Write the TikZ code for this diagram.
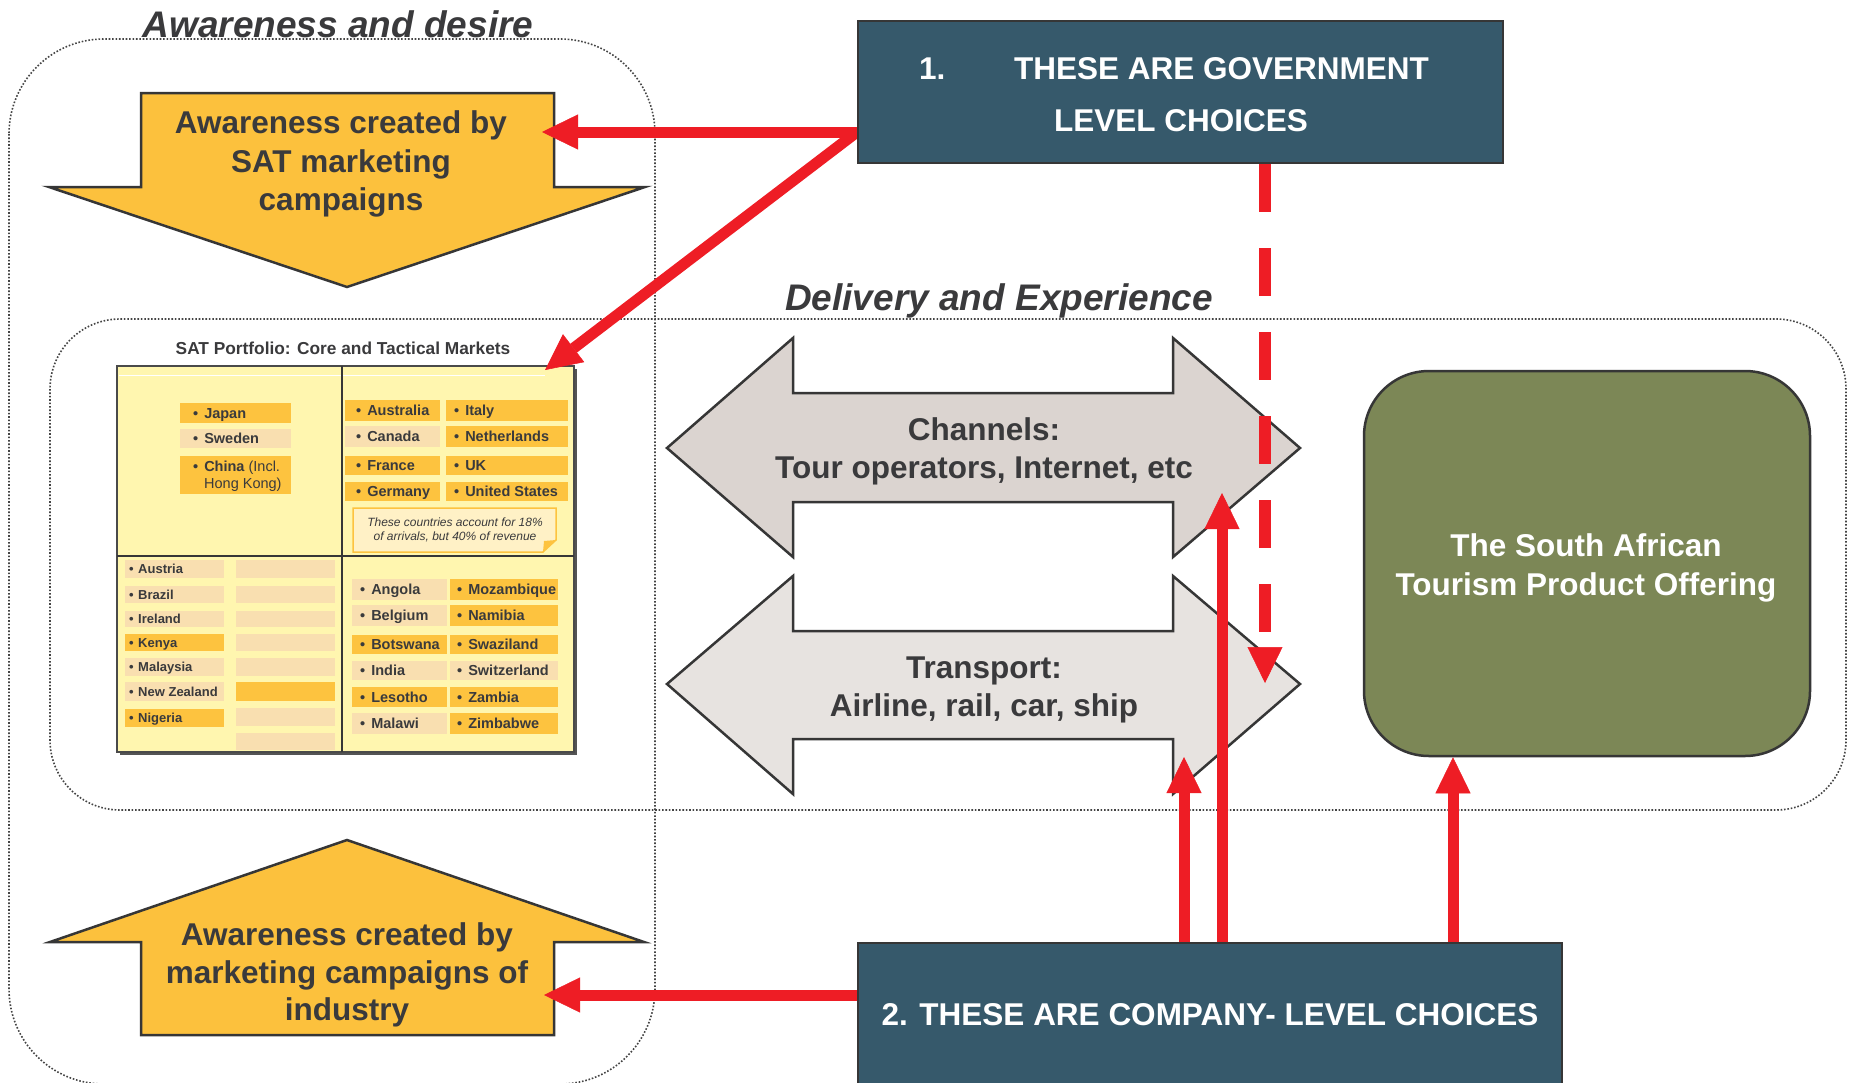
\documentclass[tikz,border=0pt]{standalone}
\usepackage{fontspec}
\setmainfont{Liberation Sans}
\usetikzlibrary{arrows.meta}
\definecolor{txt}{HTML}{3A3A3C}
\definecolor{edge}{HTML}{363636}
\definecolor{gold}{HTML}{FCC13D}
\definecolor{slate}{HTML}{36596B}
\definecolor{olive}{HTML}{7C8756}
\definecolor{redarr}{HTML}{EE1D25}
\definecolor{chan}{HTML}{DBD4D0}
\definecolor{trans}{HTML}{E7E3E0}
\definecolor{tbl}{HTML}{FFF6AF}
\definecolor{cellA}{HTML}{FDC33F}
\definecolor{cellB}{HTML}{F9DFB0}
\definecolor{notefill}{HTML}{FFF1C6}
\definecolor{dots}{HTML}{444444}
\pgfdeclarelayer{front}
\pgfsetlayers{main,front}

\newcommand{\tcell}[8]{%
  \fill[#6] (#2,#3) rectangle (#4,#5);
  \node[celltxt, anchor=base west] (#1) at (#7,{(#3+#5)/2+5.2}) {\textbullet\hspace{6pt}#8};}
\newcommand{\scell}[8]{%
  \fill[#6] (#2,#3) rectangle (#4,#5);
  \node[smalltxt, anchor=base west] (#1) at (#7,{(#3+#5)/2+4.8}) {\textbullet\hspace{4.5pt}#8};}

\begin{document}
\begin{tikzpicture}[x=1pt,y=-1pt,
  big/.style={font=\fontsize{31.5}{38}\selectfont\bfseries, text=txt, inner sep=0pt, anchor=base},
  bigw/.style={big, text=white},
  ttl/.style={font=\fontsize{37}{44}\selectfont\bfseries\itshape, text=txt, inner sep=0pt, anchor=base},
  celltxt/.style={font=\fontsize{14.5}{17}\selectfont\bfseries, text=txt, inner sep=0pt},
  smalltxt/.style={font=\fontsize{13}{15}\selectfont\bfseries, text=txt, inner sep=0pt},
  notetxt/.style={font=\fontsize{12}{14}\selectfont\itshape, text=txt, inner sep=0pt, anchor=base},
  dotbox/.style={draw=dots, line width=1.6pt, dash pattern=on 1.6pt off 1.8pt},
  yarrow/.style={fill=gold, draw=edge, line width=2.5pt, line join=miter},
  garrow/.style={draw=edge, line width=2.5pt, line join=miter},
  redarrow/.style={draw=redarr, line width=11pt, -{Triangle[length=36pt,width=35pt,line width=0.5pt]}},
  reddash/.style={redarrow, line width=12pt, dash pattern=on 48pt off 36pt},
  choicebox/.style={fill=slate, draw=edge, line width=2pt, inner sep=0pt},
]
\fill[white] (0,0) rectangle (1853,1082);
\useasboundingbox (0,0) rectangle (1853,1082);

% dotted grouping boxes
\draw[dotbox, rounded corners=95pt] (9,39) rectangle (655,1084);
\draw[dotbox, rounded corners=70pt] (50,319) rectangle (1846,810);

% titles
\node[ttl] (t-aware) at (338,37) {Awareness and desire};
\node[ttl] (t-deliv) at (999,310) {Delivery and Experience};

% yellow arrows
\draw[yarrow] (141,93) -- (554,93) -- (554,187) -- (645,187) -- (347,287) -- (49,187) -- (141,187) -- cycle;
\node[big] (aw1a) at (341,133) {Awareness created by};
\node[big] (aw1b) at (341,172) {SAT marketing};
\node[big] (aw1c) at (341,210) {campaigns};

\draw[yarrow] (347,840) -- (644,942) -- (554,942) -- (554,1035) -- (141,1035) -- (141,942) -- (50,942) -- cycle;
\node[big] (aw2a) at (347,945) {Awareness created by};
\node[big] (aw2b) at (347,983) {marketing campaigns of};
\node[big] (aw2c) at (347,1020) {industry};

% double arrows
\draw[garrow, fill=chan] (667,448) -- (793,338) -- (793,393) -- (1173,393) -- (1173,338) -- (1300,448) -- (1173,557) -- (1173,502) -- (793,502) -- (793,557) -- cycle;
\node[big] (ch1) at (984,440) {Channels:};
\node[big] (ch2) at (984,478) {Tour operators, Internet, etc};

\draw[garrow, fill=trans] (667,684) -- (793,576) -- (793,631) -- (1173,631) -- (1173,576) -- (1300,684) -- (1173,794) -- (1173,739) -- (793,739) -- (793,794) -- cycle;
\node[big] (tr1) at (984,678) {Transport:};
\node[big] (tr2) at (984,716) {Airline, rail, car, ship};

% product offering
\node[fill=olive, draw=edge, line width=2.5pt, rounded corners=65pt, minimum width=446pt, minimum height=385pt, inner sep=0pt] (offer) at (1587,563.5) {};
\node[bigw] (of1) at (1586,556) {The South African};
\node[bigw] (of2) at (1586,595) {Tourism Product Offering};

% portfolio table
\node[font=\fontsize{17.3}{20}\selectfont\bfseries, text=txt, inner sep=0pt, anchor=base] (ttitle) at (343,354) {SAT Portfolio: Core and Tactical Markets};
\fill[edge!85] (120,369) rectangle (577,755);
\draw[fill=tbl, draw=edge!90, line width=1.5pt] (117,366) rectangle (574,752);
\draw[white, line width=1pt] (119,375) -- (545,375);
\draw[edge, line width=1.5pt] (342,366) -- (342,752);
\draw[edge, line width=1.5pt] (117,556) -- (574,556);

\tcell{japan}{180}{403}{291}{423}{cellA}{193}{Japan}
\tcell{sweden}{180}{429}{291}{448}{cellB}{193}{Sweden}
\fill[cellA] (180,456) rectangle (291,494);
\node[celltxt, anchor=base west] (china) at (193,471) {\textbullet\hspace{6pt}China {\mdseries(Incl.}};
\node[celltxt, anchor=base west, font=\fontsize{14.5}{17}\selectfont\mdseries] (hk) at (204,488) {Hong Kong)};

\tcell{aus}{345}{400}{440}{421}{cellA}{356}{Australia}
\tcell{can}{345}{426}{440}{447}{cellB}{356}{Canada}
\tcell{fra}{345}{456}{440}{475}{cellA}{356}{France}
\tcell{ger}{345}{482}{440}{501}{cellA}{356}{Germany}
\tcell{ita}{446}{400}{568}{421}{cellA}{454}{Italy}
\tcell{net}{446}{426}{568}{447}{cellA}{454}{Netherlands}
\tcell{uk}{446}{456}{568}{475}{cellA}{454}{UK}
\tcell{us}{446}{482}{568}{501}{cellA}{454}{United States}

\draw[fill=notefill, draw=cellA, line width=1.5pt] (353,508) -- (556,508) -- (556,540) -- (543,552) -- (353,552) -- cycle;
\fill[cellA] (543,552) -- (556,540) -- (544,541) -- cycle;
\node[notetxt] (n1) at (455,526) {These countries account for 18\%};
\node[notetxt] (n2) at (455,540) {of arrivals, but 40\% of revenue};

\scell{aut}{125}{560}{224}{578}{cellB}{129}{Austria}
\scell{bra}{125}{586}{224}{603}{cellB}{129}{Brazil}
\scell{ire}{125}{611}{224}{627}{cellB}{129}{Ireland}
\scell{ken}{125}{634}{224}{651}{cellA}{129}{Kenya}
\scell{mal}{125}{658}{224}{676}{cellB}{129}{Malaysia}
\scell{nz}{125}{682}{224}{701}{cellB}{129}{New Zealand}
\scell{nig}{125}{709}{224}{727}{cellA}{129}{Nigeria}
\fill[cellB] (236,560) rectangle (335,578);
\fill[cellB] (236,586) rectangle (335,603);
\fill[cellB] (236,611) rectangle (335,627);
\fill[cellB] (236,634) rectangle (335,651);
\fill[cellB] (236,658) rectangle (335,676);
\fill[cellA] (236,682) rectangle (335,701);
\fill[cellB] (236,708) rectangle (335,726);
\fill[cellB] (236,733) rectangle (335,750);

\tcell{ang}{352}{579}{447}{600}{cellB}{360}{Angola}
\tcell{bel}{352}{605}{447}{626}{cellB}{360}{Belgium}
\tcell{bot}{352}{635}{447}{654}{cellA}{360}{Botswana}
\tcell{ind}{352}{661}{447}{680}{cellB}{360}{India}
\tcell{les}{352}{687}{447}{707}{cellA}{360}{Lesotho}
\tcell{mlw}{352}{713}{447}{734}{cellB}{360}{Malawi}
\tcell{moz}{450}{579}{558}{600}{cellA}{457}{Mozambique}
\tcell{nam}{450}{605}{558}{626}{cellA}{457}{Namibia}
\tcell{swa}{450}{635}{558}{654}{cellA}{457}{Swaziland}
\tcell{swi}{450}{661}{558}{680}{cellB}{457}{Switzerland}
\tcell{zam}{450}{687}{558}{707}{cellA}{457}{Zambia}
\tcell{zim}{450}{713}{558}{734}{cellA}{457}{Zimbabwe}

% choice boxes (on the front layer, drawn over the connectors)
\begin{pgfonlayer}{front}
\node[choicebox, minimum width=645pt, minimum height=142pt] (gov) at (1180.5,92) {};
\node[bigw, anchor=base west] (g1) at (919,79) {1.};
\node[bigw, anchor=base west] (g2) at (1014,79) {THESE ARE GOVERNMENT};
\node[bigw] (g3) at (1181,131) {LEVEL CHOICES};
\node[choicebox, minimum width=704pt, minimum height=150pt] (comp) at (1210,1018) {};
\node[bigw] (c1) at (1210,1025) {2. THESE ARE COMPANY- LEVEL CHOICES};
\end{pgfonlayer}

% connector end points
\coordinate (a1tip) at (542,132);
\coordinate (ttip) at (545,370);
\coordinate (a2tip) at (544,995);
\coordinate (chtip) at (1222,493);
\coordinate (trtip) at (1184,757);
\coordinate (oftip) at (1453,757);
\coordinate (dtip) at (1265,683);

% red connectors
\draw[redarrow] (gov.west |- a1tip) -- (a1tip);
\draw[redarrow] (gov.west |- a1tip) -- (ttip);
\draw[redarrow] (comp.west |- a2tip) -- (a2tip);
\draw[redarrow] (trtip |- comp.north) -- (trtip);
\draw[redarrow] (chtip |- comp.north) -- (chtip);
\draw[redarrow] (oftip |- comp.north) -- (oftip |- offer.south);
\draw[reddash] (dtip |- gov.south) -- (dtip);
\end{tikzpicture}
\end{document}
